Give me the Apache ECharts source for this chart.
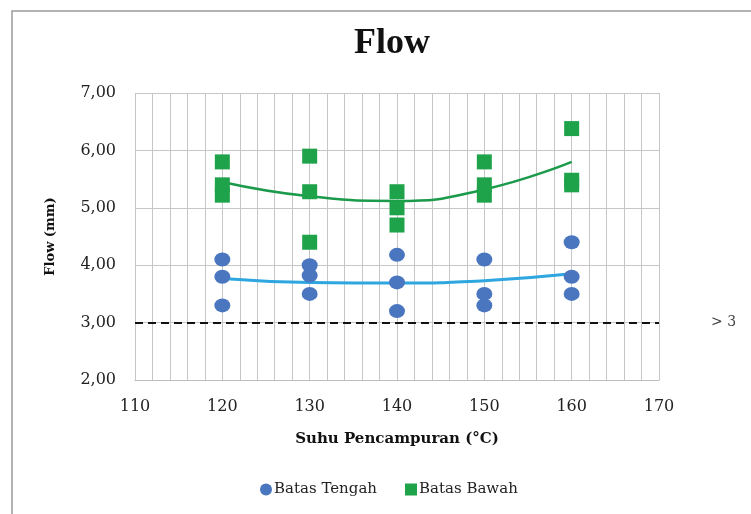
<!DOCTYPE html>
<html><head><meta charset="utf-8">
<script src="https://cdn.jsdelivr.net/npm/echarts@6/dist/echarts.min.js"></script>
<style>html,body{margin:0;padding:0;background:#fff}#c{width:751px;height:514px}</style>
</head><body><div id="c"></div>
<script>
const tengahX = [120,120,120,130,130,130,140,140,140,150,150,150,160,160,160];
const tengahY = [4.10,3.80,3.30,4.00,3.82,3.50,4.18,3.70,3.20,4.10,3.50,3.30,4.40,3.80,3.50];
const bawahX = [120,120,120,130,130,130,140,140,140,150,150,150,160,160,160];
const bawahY = [5.80,5.40,5.22,5.90,5.28,4.40,5.28,5.00,4.70,5.80,5.40,5.22,6.38,5.48,5.40];
const trendX = [120,130,140,150,160];
const trendTengah = [3.77,3.70,3.69,3.73,3.85];
const trendBawah = [5.45,5.20,5.12,5.32,5.80];
const limitValue = 3;
const serif = 'Liberation Serif';
const wide = 'DejaVu Serif';

const pair = (xs, ys) => xs.map((x, i) => [x, ys[i]]);
const chart = echarts.init(document.getElementById('c'));
chart.setOption({
  animation: false,
  textStyle: { fontFamily: wide },
  graphic: [{ type: 'rect', shape: { x: 12, y: 11, width: 800, height: 600 },
    style: { fill: 'none', stroke: '#9a9a9a', lineWidth: 1.5 }, silent: true }],
  title: { text: 'Flow', left: 349, top: 21,
    textStyle: { fontFamily: serif, fontSize: 36, fontWeight: 'bold', color: '#111' } },
  grid: { left: 135, right: 92, top: 93, bottom: 134 },
  legend: { bottom: 12, left: 255, itemWidth: 12, itemHeight: 12, itemGap: 28,
    textStyle: { fontFamily: wide, fontSize: 15, color: '#222', padding: [0, 0, 0, -3] },
    data: [{ name: 'Batas Tengah', icon: 'circle' }, { name: 'Batas Bawah', icon: 'rect' }] },
  xAxis: { type: 'value', min: 110, max: 170, interval: 10,
    name: 'Suhu Pencampuran (°C)', nameLocation: 'middle', nameGap: 52,
    nameTextStyle: { fontFamily: wide, fontSize: 15, fontWeight: 'bold', color: '#111' },
    axisLine: { show: true, lineStyle: { color: '#bdbdbd' } }, axisTick: { show: false },
    axisLabel: { fontFamily: wide, fontSize: 16, color: '#222', margin: 19 },
    splitLine: { show: true, lineStyle: { color: '#c6c6c6' } },
    minorTick: { show: false, splitNumber: 5 },
    minorSplitLine: { show: true, lineStyle: { color: '#c6c6c6' } } },
  yAxis: { type: 'value', min: 2, max: 7, interval: 1,
    name: 'Flow (mm)', nameLocation: 'middle', nameGap: 78, nameRotate: 90,
    nameTextStyle: { fontFamily: wide, fontSize: 13, fontWeight: 'bold', color: '#111' },
    axisLine: { show: false }, axisTick: { show: false },
    axisLabel: { fontFamily: wide, fontSize: 16, color: '#222', margin: 19,
      formatter: v => v.toFixed(2).replace('.', ',') },
    splitLine: { show: true, lineStyle: { color: '#c6c6c6' } } },
  series: [
    { name: 'Trend Bawah', type: 'line', data: pair(trendX, trendBawah), smooth: 0.5,
      symbol: 'none', lineStyle: { color: '#1a9a4a', width: 2.5 }, z: 3 },
    { name: 'Trend Tengah', type: 'line', data: pair(trendX, trendTengah), smooth: 0.5,
      symbol: 'none', lineStyle: { color: '#2ea6df', width: 3 }, z: 3,
      markLine: { silent: true, symbol: 'none',
        lineStyle: { color: '#111', type: [8, 5], width: 2 },
        label: { show: true, position: 'end', distance: 52, formatter: '> 3',
          fontFamily: wide, fontSize: 14, color: '#444' },
        data: [{ yAxis: limitValue }] } },
    { name: 'Batas Tengah', type: 'scatter', data: pair(tengahX, tengahY),
      symbol: 'circle', symbolSize: [16, 14], itemStyle: { color: '#4a76c0', opacity: 1 }, z: 4 },
    { name: 'Batas Bawah', type: 'scatter', data: pair(bawahX, bawahY),
      symbol: 'rect', symbolSize: 15, itemStyle: { color: '#1fa34a', opacity: 1 }, z: 4 }
  ]
});
</script></body></html>
